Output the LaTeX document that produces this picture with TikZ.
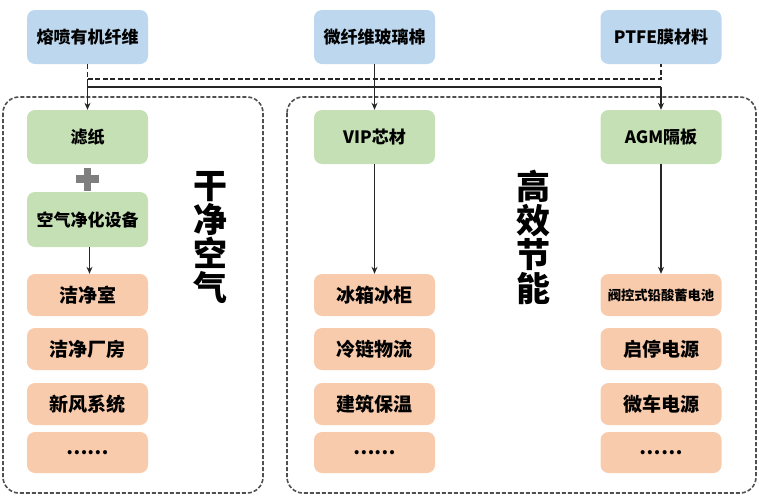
\documentclass[tikz,border=0pt]{standalone}
\usepackage{fontspec}
\newfontfamily\cjk{Noto Sans CJK SC}
\usetikzlibrary{arrows.meta}
\definecolor{bluebox}{HTML}{BDD7EE}
\definecolor{greenbox}{HTML}{C5E0B4}
\definecolor{orangebox}{HTML}{F8CBAD}
\definecolor{framegray}{HTML}{505050}
\definecolor{plusgray}{HTML}{7F7F7F}
\tikzset{
  card/.style={rounded corners=8pt, minimum width=121pt, inner sep=0pt, align=center, text=black},
  srcbox/.style={card, fill=bluebox, minimum height=54pt, font=\cjk\bfseries\fontsize{17pt}{17pt}\selectfont},
  midbox/.style={card, fill=greenbox, minimum height=54pt, font=\cjk\bfseries\fontsize{17pt}{17pt}\selectfont},
  usebox/.style={card, fill=orangebox, minimum height=42pt, font=\cjk\bfseries\fontsize{19pt}{19pt}\selectfont},
  groupframe/.style={draw=framegray, line width=1.6pt, dash pattern=on 4pt off 2pt, rounded corners=16pt},
  flow/.style={draw=black!85, line width=1.5pt},
  flowarrow/.style={flow, -{Stealth[length=7pt,width=6pt]}},
  dashlink/.style={draw=black!85, line width=1.8pt, dash pattern=on 5pt off 2.5pt},
  biglabel/.style={font=\cjk\bfseries\fontsize{34pt}{34pt}\selectfont, align=center, inner sep=0pt}
}
\begin{document}
\begin{tikzpicture}[x=1pt,y=-1pt]
\useasboundingbox (0,0) rectangle (759,496);
% group frames
\draw[groupframe] (3,97) rectangle (263,493);
\draw[groupframe] (287,97) rectangle (756,493);
% source boxes
\node[srcbox] (b1) at (87.5,37) {熔喷有机纤维};
\node[srcbox] (b2) at (374.5,37) {微纤维玻璃棉};
\node[srcbox] (b3) at (661,37) {PTFE膜材料};
% middle boxes
\node[midbox] (g1) at (87.5,137) {滤纸};
\node[midbox, minimum height=55pt] (g2) at (87.5,219.5) {空气净化设备};
\node[midbox] (g3) at (374.5,137) {VIP芯材};
\node[midbox] (g4) at (661,137) {AGM隔板};
% use boxes left
\node[usebox] (l1) at (87.5,295) {洁净室};
\node[usebox] (l2) at (87.5,349) {洁净厂房};
\node[usebox] (l3) at (87.5,404) {新风系统};
\node[usebox, minimum height=41pt] (l4) at (87.5,452.5) {……};
% use boxes middle
\node[usebox] (m1) at (374.5,295) {冰箱冰柜};
\node[usebox] (m2) at (374.5,349) {冷链物流};
\node[usebox] (m3) at (374.5,404) {建筑保温};
\node[usebox, minimum height=41pt] (m4) at (374.5,452.5) {……};
% use boxes right
\node[usebox, font=\cjk\bfseries\fontsize{13.3pt}{13.3pt}\selectfont] (r1) at (661,295) {阀控式铅酸蓄电池};
\node[usebox] (r2) at (661,349) {启停电源};
\node[usebox] (r3) at (661,404) {微车电源};
\node[usebox, minimum height=41pt] (r4) at (661,452.5) {……};
% big labels
\node[biglabel] (t1) at (210,237.5) {干\\净\\空\\气};
\node[biglabel] (t2) at (533,237.5) {高\\效\\节\\能};
% plus sign
\node (plus) at (87.5,179) {};
\fill[plusgray] ([xshift=-11.5pt,yshift=3.75pt]plus.center) rectangle ([xshift=11.5pt,yshift=-3.75pt]plus.center);
\fill[plusgray] ([xshift=-3.75pt,yshift=11.5pt]plus.center) rectangle ([xshift=3.75pt,yshift=-11.5pt]plus.center);
% connectors
\coordinate (dl) at (b1.south |- 0,79);
\coordinate (dr) at (b3.south |- 0,79);
\coordinate (sl) at (b1.south |- 0,87);
\coordinate (sr) at (b3.south |- 0,87);
\draw[dashlink] (b1.south) -- (dl) -- (dr) -- (b3.south);
\draw[flow] (sl) -- (sr);
\draw[flowarrow] (dl) -- (g1.north);
\draw[flowarrow] (b2.south) -- (g3.north);
\draw[flowarrow] (sr) -- (g4.north);
\draw[flowarrow] ([xshift=2pt]g2.south) -- ([xshift=2pt]l1.north);
\draw[flowarrow] (g3.south) -- (m1.north);
\draw[flowarrow] (g4.south) -- (r1.north);
\end{tikzpicture}
\end{document}
